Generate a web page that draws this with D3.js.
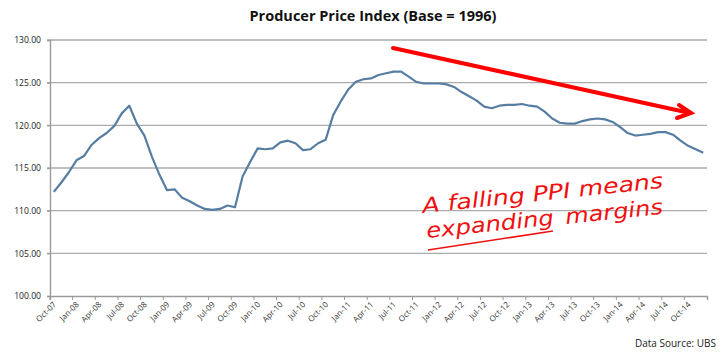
<!DOCTYPE html>
<html><head><meta charset="utf-8">
<script src="https://cdn.jsdelivr.net/npm/d3@7"></script>
<style>body{margin:0;background:#fff}svg{display:block}</style>
</head><body><svg id="c" width="720" height="355"></svg>
<script>
const months = ["Oct-07","Nov-07","Dec-07","Jan-08","Feb-08","Mar-08","Apr-08","May-08","Jun-08","Jul-08","Aug-08","Sep-08",
"Oct-08","Nov-08","Dec-08","Jan-09","Feb-09","Mar-09","Apr-09","May-09","Jun-09","Jul-09","Aug-09","Sep-09",
"Oct-09","Nov-09","Dec-09","Jan-10","Feb-10","Mar-10","Apr-10","May-10","Jun-10","Jul-10","Aug-10","Sep-10",
"Oct-10","Nov-10","Dec-10","Jan-11","Feb-11","Mar-11","Apr-11","May-11","Jun-11","Jul-11","Aug-11","Sep-11",
"Oct-11","Nov-11","Dec-11","Jan-12","Feb-12","Mar-12","Apr-12","May-12","Jun-12","Jul-12","Aug-12","Sep-12",
"Oct-12","Nov-12","Dec-12","Jan-13","Feb-13","Mar-13","Apr-13","May-13","Jun-13","Jul-13","Aug-13","Sep-13",
"Oct-13","Nov-13","Dec-13","Jan-14","Feb-14","Mar-14","Apr-14","May-14","Jun-14","Jul-14","Aug-14","Sep-14",
"Oct-14","Nov-14","Dec-14"];
const ppi = [112.2,113.3,114.5,115.9,116.4,117.7,118.5,119.1,119.9,121.4,122.3,120.2,
118.8,116.3,114.2,112.4,112.5,111.5,111.1,110.6,110.2,110.1,110.2,110.6,
110.4,114.0,115.7,117.3,117.2,117.3,118.0,118.2,117.9,117.1,117.2,117.9,
118.3,121.2,122.8,124.2,125.1,125.4,125.5,125.9,126.1,126.3,126.3,125.7,
125.1,124.9,124.9,124.9,124.8,124.5,123.9,123.4,122.9,122.2,122.0,122.3,
122.4,122.4,122.5,122.3,122.2,121.6,120.8,120.3,120.2,120.2,120.5,120.7,
120.8,120.7,120.4,119.8,119.1,118.8,118.9,119.0,119.2,119.2,118.9,118.2,
117.6,117.2,116.8];
const xTickLabels = months.filter((m,i)=>i%3===0);
const yTicks = [100,105,110,115,120,125,130];
const title = "Producer Price Index (Base = 1996)";
const note1 = "A falling PPI means";
const note2a = "expanding";
const note2b = "margins";
const source = "Data Source: UBS";

const svg = d3.select("#c");
const L=50,R=707,T=40,B=296;
const x = d3.scaleBand().domain(months).range([L,R]).padding(0);
const bw = x.bandwidth();
const y = d3.scaleLinear().domain([100,130]).range([B,T]);

// gridlines
svg.append("g").selectAll("line").data(yTicks.filter(d=>d>100)).join("line")
  .attr("x1",L-3).attr("x2",R).attr("y1",d=>y(d)).attr("y2",d=>y(d))
  .attr("stroke","#ababab").attr("stroke-width",1.4);

// y axis
const ya = svg.append("g").attr("transform",`translate(${L},0)`)
  .call(d3.axisLeft(y).tickValues(yTicks).tickFormat(d3.format(".2f")).tickSize(3).tickPadding(6));
ya.select(".domain").attr("stroke","#9a9a9a").attr("stroke-width",1.4);
ya.selectAll(".tick line").attr("stroke","#9a9a9a").attr("stroke-width",1.2);
ya.selectAll("text").attr("font-family","Open Sans, sans-serif").attr("font-size",8.6).attr("fill","#222");

// x axis
const xa = svg.append("g").attr("transform",`translate(0,${B})`)
  .call(d3.axisBottom(x).tickValues(xTickLabels).tickSizeOuter(0).tickSize(4));
xa.select(".domain").attr("stroke","#9a9a9a").attr("stroke-width",1.4);
xa.selectAll(".tick line").attr("transform",`translate(${-bw/2},0)`).attr("stroke","#9a9a9a");
xa.selectAll("text").attr("font-family","Open Sans, sans-serif").attr("font-size",8).attr("fill","#333")
  .attr("text-anchor","end").attr("dy",0).attr("y",0)
  .attr("transform","translate(3,9) rotate(-45)");

// line
svg.append("path").datum(ppi)
  .attr("d", d3.line().x((d,i)=>x(months[i])+bw/2).y(d=>y(d)))
  .attr("fill","none").attr("stroke","#567ea3").attr("stroke-width",2.2).attr("stroke-linejoin","round");

// title
svg.append("text").attr("x",373).attr("y",21).attr("text-anchor","middle")
  .attr("font-family","Open Sans, sans-serif").attr("font-weight","bold").attr("font-size",14.5).attr("fill","#111")
  .text(title);

// red arrow (annotation)
const ag = svg.append("g").attr("stroke","#f00").attr("stroke-width",4).attr("fill","none").attr("stroke-linecap","round");
ag.append("line").attr("x1",393).attr("y1",48).attr("x2",690).attr("y2",113);
ag.append("polyline").attr("points","679,105 691,113 677,118");

// handwritten note
const ng = svg.append("g").attr("fill","#f01010").attr("font-family","DejaVu Sans, sans-serif").attr("font-style","italic").attr("font-weight","200");
ng.append("text").attr("transform","translate(423,213) rotate(-6)").attr("font-size",21)
  .attr("textLength",242).attr("lengthAdjust","spacingAndGlyphs").text(note1);
ng.append("text").attr("transform","translate(427,238) rotate(-6)").attr("font-size",21)
  .attr("textLength",128).attr("lengthAdjust","spacingAndGlyphs").text(note2a);
ng.append("text").attr("transform","translate(566,224) rotate(-6)").attr("font-size",21)
  .attr("textLength",98).attr("lengthAdjust","spacingAndGlyphs").text(note2b);
svg.append("line").attr("x1",428).attr("y1",250).attr("x2",553).attr("y2",231)
  .attr("stroke","#f01010").attr("stroke-width",1.6);

// source
svg.append("text").attr("x",716).attr("y",347).attr("text-anchor","end")
  .attr("font-family","Open Sans, sans-serif").attr("font-size",10).attr("fill","#222").text(source);
</script></body></html>
